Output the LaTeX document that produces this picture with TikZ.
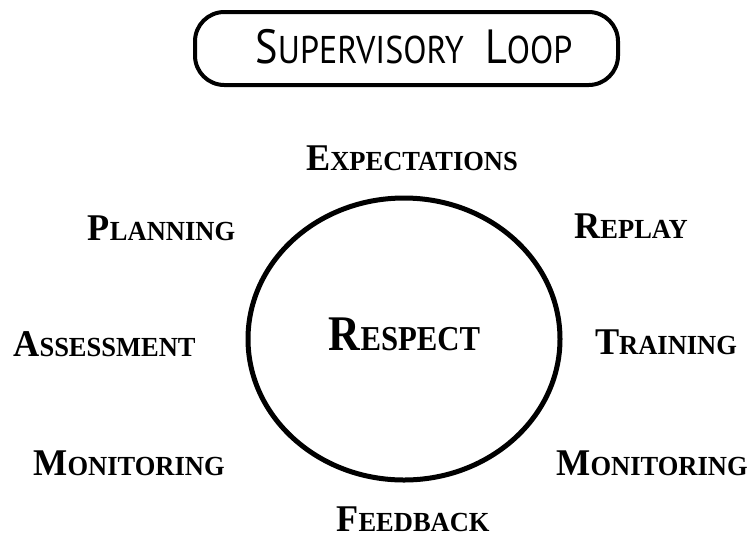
\documentclass[tikz,border=0pt]{standalone}
\usepackage{fontspec}
\usepackage{tikz}
\newfontfamily\titlefont[FakeStretch=0.88]{PT Sans}
\newfontfamily\wordfont[FakeStretch=0.96]{Liberation Serif}
\newfontfamily\centrefont[FakeStretch=0.88]{Liberation Serif}
\newcommand{\capword}[2]{{\fontsize{28.3}{30}\selectfont #1}{\fontsize{20.7}{22}\selectfont #2}}
\newcommand{\titleword}[2]{{\fontsize{36}{38}\selectfont #1}{\fontsize{29}{30}\selectfont #2}}

\begin{document}
\begin{tikzpicture}[x=0.75pt, y=-0.75pt,
        word/.style={anchor=base, inner sep=0pt, font=\wordfont\bfseries}]
        \useasboundingbox (0,0) rectangle (753,537);
        \draw [line width=3pt, rounded corners=22pt] (195,12) rectangle (618,85);   % title box
        \node[anchor=base, inner sep=0pt, font=\titlefont] (title) at (414,63)
            {\titleword{S}{UPERVISORY}\hspace{16pt}\titleword{L}{OOP}};
        \draw [line width=3.75pt] (404,339) ellipse [x radius=117pt, y radius=105.75pt];  % the loop
        \node[anchor=base, inner sep=0pt, font=\centrefont\bfseries] (respect) at (404.5,350)
            {{\fontsize{37.4}{40}\selectfont R}{\fontsize{26.2}{28}\selectfont ESPECT}};
        \node[word] (expect) at (412,170) {\capword{E}{XPECTATIONS}};   % round the loop
        \node[word] (plan) at (161.5,240) {\capword{P}{LANNING}};
        \node[word] (replay) at (631,238) {\capword{R}{EPLAY}};
        \node[word] (assess) at (104.5,356) {\capword{A}{SSESSMENT}};
        \node[word] (train) at (666,354) {\capword{T}{RAINING}};
        \node[word] (monleft) at (129,475) {\capword{M}{ONITORING}};
        \node[word] (monright) at (652,475) {\capword{M}{ONITORING}};
        \node[word] (feedback) at (413,531) {\capword{F}{EEDBACK}};
    \end{tikzpicture}
\end{document}
